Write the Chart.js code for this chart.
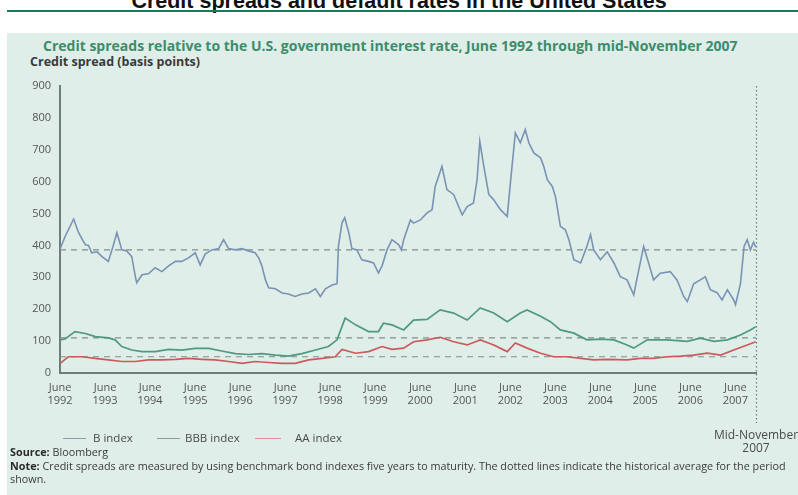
<!DOCTYPE html>
<html>
<head>
<meta charset="utf-8">
<script src="https://cdn.jsdelivr.net/npm/chart.js@4.4.1/dist/chart.umd.min.js"></script>
<style>
  html, body { margin: 0; padding: 0; background: #fff; }
  body { width: 798px; height: 495px; position: relative; overflow: hidden; font-family: "Open Sans", sans-serif; }
  .main-title { position: absolute; left: 0; top: -11px; width: 798px; text-align: center;
    font: bold 21.5px/24px "Liberation Sans", Arial, sans-serif; color: #111; white-space: nowrap; }
  .rule { position: absolute; left: 7px; right: 0; top: 10px; height: 2px; background: #1d7a5c; }
  .panel { position: absolute; left: 7px; top: 33px; right: 0; bottom: 0; background: #dfeee9; }
  .panel-title { position: absolute; left: 43px; top: 37px; font-weight: bold; font-size: 14px; line-height: 18px;
    color: #3d8c6c; white-space: nowrap; }
  .axis-title { position: absolute; left: 30px; top: 54px; font-weight: bold; font-size: 12.5px; line-height: 16px;
    color: #3a3a3a; white-space: nowrap; }
  canvas { position: absolute; left: 0; top: 0; }
  .legend span { position: absolute; font-size: 11.5px; line-height: 14px; color: #4a4a4a; white-space: nowrap; }
  .legend i { position: absolute; height: 1px; }
  .end-label { position: absolute; left: 696px; top: 428px; width: 120px; text-align: center; font-size: 12px;
    line-height: 13px; color: #4a4a4a; white-space: nowrap; }
  .notes { position: absolute; left: 10px; top: 445px; font-size: 10.8px; line-height: 13.5px; color: #3a3a3a; white-space: nowrap; }
  .notes b { color: #2a2a2a; }
</style>
</head>
<body>
<div class="main-title">Credit spreads and default rates in the United States</div>
<div class="rule"></div>
<div class="panel"></div>
<div class="panel-title">Credit spreads relative to the U.S. government interest rate, June 1992 through mid-November 2007</div>
<div class="axis-title">Credit spread (basis points)</div>
<canvas id="chart" width="798" height="495"></canvas>
<div class="legend">
  <i style="left:63px;top:438px;width:23px;background:#8b9bb0"></i><span style="left:93px;top:431px">B index</span>
  <i style="left:157px;top:438px;width:23px;background:#8c9e96"></i><span style="left:185px;top:431px">BBB index</span>
  <i style="left:255px;top:438px;width:26px;background:#e58a98"></i><span style="left:295px;top:431px">AA index</span>
</div>
<div class="end-label">Mid-November<br>2007</div>
<div class="notes"><b>Source:</b> Bloomberg<br><b>Note:</b> Credit spreads are measured by using benchmark bond indexes five years to maturity. The dotted lines indicate the historical average for the period<br>shown.</div>

<script>
// dates are decimal years (June = year + 5/12)
const startDate = 1992 + 5 / 12;
const endDate = 2007 + 10.5 / 12; // mid-November 2007
const tickYears = [1992, 1993, 1994, 1995, 1996, 1997, 1998, 1999, 2000, 2001, 2002, 2003, 2004, 2005, 2006, 2007];

const bDates = [1992.42, 1992.53, 1992.72, 1992.83, 1992.98, 1993.05, 1993.12, 1993.24, 1993.35, 1993.49,
  1993.60, 1993.68, 1993.79, 1993.90, 1994.01, 1994.09, 1994.12, 1994.24, 1994.38, 1994.53,
  1994.68, 1994.83, 1994.98, 1995.12, 1995.27, 1995.42, 1995.53, 1995.64, 1995.79, 1995.94,
  1996.05, 1996.16, 1996.31, 1996.46, 1996.60, 1996.75, 1996.83, 1996.90, 1996.98, 1997.05,
  1997.20, 1997.35, 1997.49, 1997.64, 1997.79, 1997.94, 1998.09, 1998.20, 1998.31, 1998.46,
  1998.57, 1998.60, 1998.68, 1998.74, 1998.83, 1998.90, 1999.01, 1999.12, 1999.27, 1999.38,
  1999.49, 1999.57, 1999.68, 1999.79, 1999.94, 2000.00, 2000.05, 2000.20, 2000.27, 2000.42,
  2000.57, 2000.68, 2000.75, 2000.90, 2001.01, 2001.16, 2001.27, 2001.35, 2001.46, 2001.60,
  2001.68, 2001.74, 2001.83, 2001.94, 2002.05, 2002.20, 2002.35, 2002.42, 2002.53, 2002.64,
  2002.75, 2002.83, 2002.94, 2003.09, 2003.16, 2003.24, 2003.35, 2003.42, 2003.53, 2003.64,
  2003.72, 2003.83, 2003.98, 2004.12, 2004.20, 2004.27, 2004.42, 2004.57, 2004.72, 2004.86,
  2005.01, 2005.16, 2005.24, 2005.38, 2005.49, 2005.60, 2005.75, 2005.97, 2006.12, 2006.27,
  2006.35, 2006.49, 2006.64, 2006.75, 2006.86, 2007.01, 2007.12, 2007.24, 2007.38, 2007.42,
  2007.53, 2007.61, 2007.68, 2007.75, 2007.82, 2007.87];
const bIndex = [390, 428, 483, 440, 402, 400, 377, 380, 365, 350,
  400, 440, 386, 383, 365, 302, 283, 308, 311, 330,
  318, 336, 350, 350, 361, 377, 339, 373, 386, 390,
  418, 390, 386, 390, 383, 377, 361, 336, 292, 267,
  264, 251, 248, 240, 248, 251, 264, 240, 264, 276,
  280, 397, 471, 487, 440, 390, 386, 355, 350, 345,
  314, 336, 386, 418, 402, 386, 418, 480, 470, 480,
  502, 512, 585, 648, 575, 560, 522, 496, 522, 533,
  606, 726, 648, 560, 543, 512, 491, 596, 753, 722,
  763, 722, 690, 675, 648, 606, 585, 554, 460, 449,
  418, 355, 345, 397, 434, 386, 355, 380, 345, 302,
  292, 245, 302, 397, 345, 292, 313, 318, 292, 240,
  224, 280, 292, 302, 261, 252, 229, 261, 229, 214,
  280, 397, 418, 386, 410, 395];

const bbbDates = [1992.42, 1992.53, 1992.75, 1992.98, 1993.20, 1993.49, 1993.64, 1993.79, 1994.01, 1994.24,
  1994.53, 1994.83, 1995.12, 1995.42, 1995.72, 1996.01, 1996.31, 1996.60, 1996.90, 1997.20,
  1997.49, 1997.79, 1998.09, 1998.38, 1998.57, 1998.75, 1998.98, 1999.27, 1999.49, 1999.60,
  1999.79, 2000.05, 2000.27, 2000.57, 2000.86, 2001.16, 2001.46, 2001.75, 2002.05, 2002.35,
  2002.64, 2002.79, 2003.09, 2003.31, 2003.53, 2003.83, 2004.12, 2004.42, 2004.72, 2005.01,
  2005.16, 2005.46, 2005.90, 2006.35, 2006.64, 2006.94, 2007.24, 2007.53, 2007.75, 2007.87];
const bbbIndex = [104, 107, 130, 124, 114, 110, 104, 83, 72, 67,
  67, 74, 72, 77, 77, 69, 61, 58, 61, 56,
  53, 61, 72, 83, 104, 172, 151, 130, 130, 156,
  151, 135, 166, 168, 198, 188, 166, 204, 188, 161,
  188, 198, 178, 161, 135, 125, 104, 106, 104, 88,
  78, 104, 104, 99, 109, 99, 104, 119, 135, 145];

const aaDates = [1992.42, 1992.60, 1992.90, 1993.20, 1993.49, 1993.79, 1994.09, 1994.38, 1994.68, 1994.98,
  1995.27, 1995.57, 1995.86, 1996.16, 1996.46, 1996.75, 1997.05, 1997.35, 1997.64, 1997.94,
  1998.24, 1998.53, 1998.68, 1998.98, 1999.27, 1999.57, 1999.79, 2000.05, 2000.27, 2000.57,
  2000.86, 2001.16, 2001.46, 2001.75, 2002.05, 2002.35, 2002.53, 2002.79, 2003.09, 2003.38,
  2003.68, 2003.98, 2004.27, 2004.57, 2005.01, 2005.31, 2005.60, 2005.90, 2006.20, 2006.49,
  2006.79, 2007.09, 2007.38, 2007.68, 2007.87];
const aaIndex = [30, 51, 51, 46, 41, 36, 36, 41, 41, 43,
  46, 43, 41, 36, 30, 36, 33, 30, 30, 41,
  46, 51, 74, 62, 67, 83, 74, 78, 98, 104,
  112, 98, 88, 104, 88, 67, 94, 78, 62, 51,
  51, 46, 41, 43, 41, 46, 46, 51, 53, 56,
  62, 56, 72, 88, 98];

// historical averages over the period (dotted lines)
const averageNames = ['B average', 'BBB average', 'AA average'];
const averageValues = [386, 110, 51];

const lineColors = ['#7a93b4', '#4f9a7e', '#cc5a5a'];
const avgColor = '#808f8c';

const toPoints = (dates, values) => dates.map((d, i) => ({ x: d, y: values[i] }));

const datasets = [
  { label: 'B index', data: toPoints(bDates, bIndex), borderColor: lineColors[0], borderWidth: 1.6, order: 1 },
  { label: 'BBB index', data: toPoints(bbbDates, bbbIndex), borderColor: lineColors[1], borderWidth: 1.7, order: 1 },
  { label: 'AA index', data: toPoints(aaDates, aaIndex), borderColor: lineColors[2], borderWidth: 1.7, order: 1 }
];
averageValues.forEach((v, i) => {
  datasets.push({
    label: averageNames[i],
    data: [{ x: startDate, y: v }, { x: endDate, y: v }],
    borderColor: avgColor,
    borderWidth: 1.2,
    borderDash: [6, 5],
    order: 2
  });
});

// dotted marker at the last observation, running down to the "Mid-November 2007" label
const endMarker = {
  id: 'endMarker',
  afterDatasetsDraw(chart) {
    const { ctx, chartArea, scales } = chart;
    const x = Math.round(scales.x.getPixelForValue(endDate)) + 0.5;
    ctx.save();
    ctx.strokeStyle = '#6f7d7a';
    ctx.lineWidth = 1.2;
    ctx.setLineDash([1.5, 2.5]);
    ctx.beginPath();
    ctx.moveTo(x, chartArea.top);
    ctx.lineTo(x, chartArea.bottom + 50);
    ctx.stroke();
    ctx.restore();
  }
};

const tickFont = { family: '"Open Sans", sans-serif', size: 11 };

new Chart(document.getElementById('chart'), {
  type: 'line',
  data: { datasets },
  plugins: [endMarker],
  options: {
    responsive: false,
    animation: false,
    devicePixelRatio: 1,
    layout: { padding: { left: 10, right: 42, top: 86, bottom: 82 } },
    elements: { point: { radius: 0 }, line: { tension: 0 } },
    plugins: { legend: { display: false }, tooltip: { enabled: false } },
    scales: {
      x: {
        type: 'linear',
        min: startDate,
        max: endDate,
        grid: { display: false, drawTicks: false },
        border: { color: '#6e7d7a', width: 2 },
        afterBuildTicks: scale => { scale.ticks = tickYears.map(y => ({ value: y + 5 / 12 })); },
        afterFit: scale => { scale.height = 40; },
        ticks: {
          autoSkip: false,
          maxRotation: 0,
          padding: 8,
          color: '#555',
          font: tickFont,
          callback: v => ['June', String(Math.floor(v))]
        }
      },
      y: {
        min: 0,
        max: 900,
        grid: { display: false, drawTicks: false },
        border: { color: '#6e7d7a', width: 2 },
        afterFit: scale => { scale.width = 50; },
        ticks: { stepSize: 100, padding: 9, color: '#555', font: tickFont }
      }
    }
  }
});
</script>
</body>
</html>
